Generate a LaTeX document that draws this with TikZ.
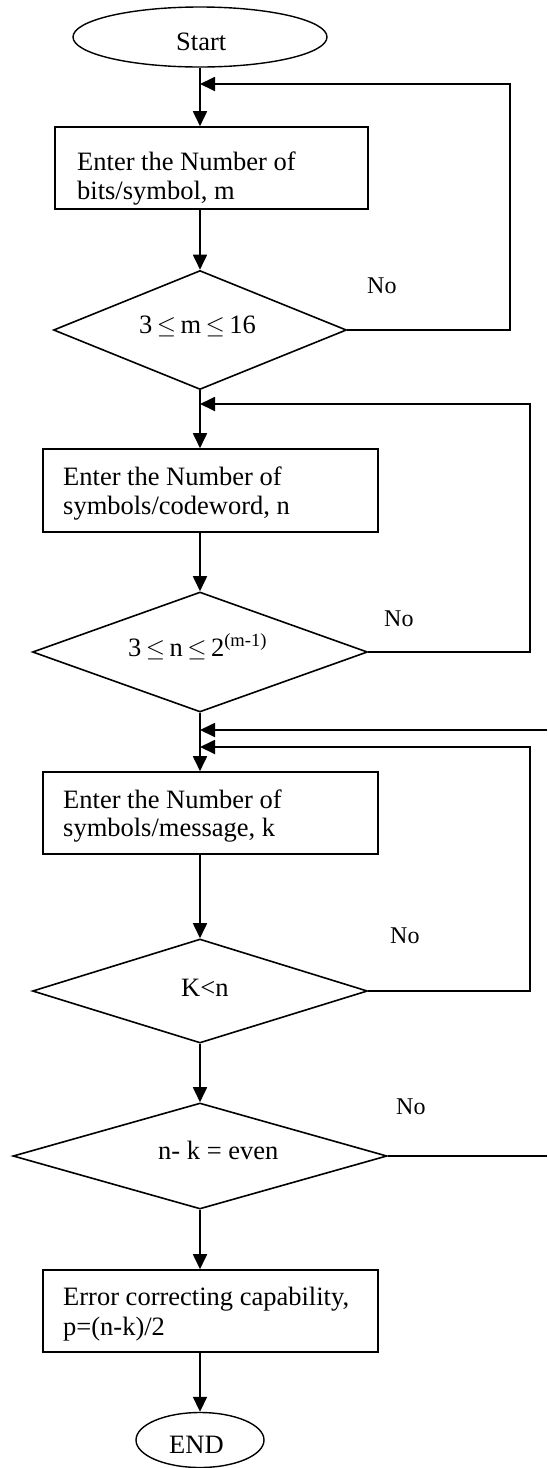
\documentclass[tikz,border=0pt]{standalone}
\usepackage{fontspec}
\setmainfont{Liberation Serif}
\usetikzlibrary{shapes.geometric,arrows.meta}
\begin{document}
\begin{tikzpicture}[x=1pt,y=-1pt,
  fig/.style={draw, inner sep=0pt, line width=1.6pt},
  procbox/.style={fig, rectangle},
  decision/.style={fig, diamond},
  term/.style={fig, ellipse, line width=1.4pt},
  txt/.style={inner sep=0pt, anchor=base west, font=\fontsize{26.5}{29}\selectfont},
  notxt/.style={inner sep=0pt, anchor=base west, font=\fontsize{24}{28}\selectfont},
  flow/.style={line width=1.8pt, -{Triangle[length=15pt,width=14pt]}},
  plain/.style={line width=1.6pt},
]
\useasboundingbox (0,0) rectangle (547,1468);

% shapes
\node[term, minimum width=254pt, minimum height=60pt] (start) at (200,37) {};
\node[procbox, minimum width=313pt, minimum height=82pt] (b1) at (211.5,168) {};
\node[decision, minimum width=293pt, minimum height=119pt] (d1) at (200,330) {};
\node[procbox, minimum width=335pt, minimum height=83pt] (b2) at (210.5,490.5) {};
\node[decision, minimum width=335pt, minimum height=120pt] (d2) at (200,652) {};
\node[procbox, minimum width=335pt, minimum height=82pt] (b3) at (210.5,813) {};
\node[decision, minimum width=335pt, minimum height=104pt] (d3) at (200,991) {};
\node[decision, minimum width=374pt, minimum height=106pt] (d4) at (200,1156) {};
\node[procbox, minimum width=335pt, minimum height=82pt] (b4) at (210.5,1311) {};
\node[term, minimum width=128pt, minimum height=55pt] (end) at (200,1440) {};

% texts
\node[txt] (tstart) at (176,50) {Start};
\node[txt] (t1a) at (77,170) {Enter the Number of};
\node[txt] (t1b) at (77,199) {bits/symbol, m};
\node[txt] (td1) at (139,333) {3\,$\leq$\,m\,$\leq$\,16};
\node[txt] (t2a) at (63,485) {Enter the Number of};
\node[txt] (t2b) at (63,514) {symbols/codeword, n};
\node[txt] (td2) at (128,656) {3\,$\leq$\,n\,$\leq$\,2\textsuperscript{(m-1)}};
\node[txt] (t3a) at (63,808) {Enter the Number of};
\node[txt] (t3b) at (63,836) {symbols/message, k};
\node[txt] (td3) at (181,996) {K<n};
\node[txt] (td4) at (158,1159) {n- k = even};
\node[txt] (t4a) at (63,1305) {Error correcting capability,};
\node[txt] (t4b) at (63,1335) {p=(n-k)/2};
\node[txt] (tend) at (169,1453) {END};
\node[notxt] (no1) at (367,293) {No};
\node[notxt] (no2) at (384,626) {No};
\node[notxt] (no3) at (390,943) {No};
\node[notxt] (no4) at (396,1114) {No};

% junction and corner coordinates
\coordinate (j1) at (200,84);
\coordinate (c1) at (510,84);
\coordinate (j2) at (200,404);
\coordinate (c2) at (530,404);
\coordinate (j3) at (200,730);
\coordinate (e3) at (547,730);
\coordinate (j4) at (200,747);
\coordinate (c4) at (530,747);
\coordinate (e4) at (547,1156);

% main flow
\draw[flow] (start.south) -- (b1.north -| start.south);
\draw[flow] (b1.south -| d1.north) -- (d1.north);
\draw[flow] (d1.south) -- (b2.north -| d1.south);
\draw[flow] (b2.south -| d2.north) -- (d2.north);
\draw[flow] (d2.south) -- (b3.north -| d2.south);
\draw[flow] (b3.south -| d3.north) -- (d3.north);
\draw[flow] (d3.south) -- (d4.north);
\draw[flow] (d4.south) -- (b4.north -| d4.south);
\draw[flow] (b4.south -| end.north) -- (end.north);

% loops back
\draw[flow] (d1.east) -| (c1) -- (j1);
\draw[flow] (d2.east) -| (c2) -- (j2);
\draw[flow] (e3) -- (j3);
\draw[flow] (d3.east) -| (c4) -- (j4);
\draw[plain] (d4.east) -- (e4);
\end{tikzpicture}
\end{document}
